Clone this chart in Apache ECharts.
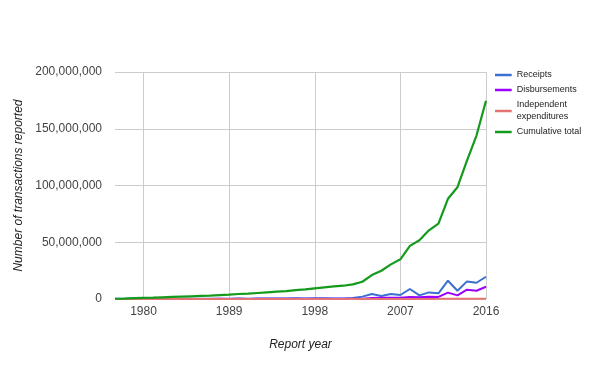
<!DOCTYPE html>
<html><head><meta charset="utf-8">
<script src="https://cdn.jsdelivr.net/npm/echarts@6/dist/echarts.min.js"></script>
<style>html,body{margin:0;padding:0;background:#fff}#c{width:600px;height:371px}</style>
</head><body><div id="c"></div>
<script>
var years = ['1977','1978','1979','1980','1981','1982','1983','1984','1985','1986','1987','1988','1989','1990','1991','1992','1993','1994','1995','1996','1997','1998','1999','2000','2001','2002','2003','2004','2005','2006','2007','2008','2009','2010','2011','2012','2013','2014','2015','2016'];
var tickYears = ['1980','1989','1998','2007','2016'];
var receipts = [150000,200000,200000,220000,200000,220000,220000,230000,220000,230000,220000,280000,300000,400000,250000,400000,420000,430000,350000,600000,420000,600000,600000,550000,400000,900000,2100000,4400000,2600000,4400000,3500000,8800000,3200000,5800000,5000000,16100000,7300000,15500000,14300000,19600000];
var disbursements = [50000,100000,100000,80000,100000,80000,80000,70000,80000,70000,80000,120000,100000,200000,50000,200000,180000,170000,150000,300000,180000,300000,300000,250000,200000,300000,200000,900000,1200000,1200000,1000000,1800000,1500000,2000000,1800000,5600000,3200000,8200000,7300000,10800000];
var independent = [5000,5000,5000,10000,10000,10000,10000,10000,10000,10000,10000,10000,10000,10000,10000,10000,10000,10000,10000,10000,10000,20000,20000,20000,20000,30000,30000,50000,50000,60000,60000,80000,80000,100000,120000,200000,150000,250000,250000,300000];
var cumulative = [200000,400000,700000,1000000,1200000,1500000,1800000,2100000,2400000,2700000,3000000,3400000,3800000,4400000,4700000,5300000,5900000,6500000,7000000,7900000,8500000,9400000,10300000,11100000,11700000,12900000,15200000,21100000,24900000,30500000,35000000,46800000,51800000,60500000,66400000,88300000,98500000,122000000,144000000,174600000];
var seriesNames = ['Receipts','Disbursements','Independent expenditures','Cumulative total'];
var colors = ['#3c6fd1','#9b00ff','#e67373','#149a1c'];

var chart = echarts.init(document.getElementById('c'));
var isTick = function (idx, val) { return tickYears.indexOf(String(val)) >= 0 || tickYears.indexOf(years[idx]) >= 0; };
var icon = 'path://M0,0L20,0L20,3L0,3Z';
function leg(name, top, extra) {
  var l = {
    data: [name], left: 495, top: top, orient: 'vertical', icon: icon,
    itemWidth: 17, itemHeight: 2.5, itemGap: 0, padding: 0,
    textStyle: Object.assign({fontFamily: 'Liberation Sans, Arial, sans-serif', fontSize: 9, color: '#222', lineHeight: 12}, extra || {}),
    selectedMode: false
  };
  return l;
}
var option = {
  animation: false,
  backgroundColor: '#fff',
  color: colors,
  grid: {left: 115, right: 114, top: 72, bottom: 72, containLabel: false},
  legend: [
    leg(seriesNames[0], 69),
    leg(seriesNames[1], 84),
    Object.assign(leg(seriesNames[2], 93, {padding: [12, 0, 0, 0]}), {formatter: function () { return 'Independent\nexpenditures'; }}),
    leg(seriesNames[3], 126)
  ],
  xAxis: {
    type: 'category', data: years, boundaryGap: false,
    name: 'Report year', nameLocation: 'middle', nameGap: 40,
    nameTextStyle: {fontFamily: 'Liberation Sans, Arial, sans-serif', fontSize: 12, fontStyle: 'italic', color: '#222'},
    axisLine: {show: false}, axisTick: {show: false},
    axisLabel: {interval: isTick, fontFamily: 'Liberation Sans, Arial, sans-serif', fontSize: 12, color: '#444', margin: 7},
    splitLine: {show: true, interval: isTick, lineStyle: {color: '#cccccc', width: 1}}
  },
  yAxis: {
    type: 'value', min: 0, max: 200000000, interval: 50000000,
    name: 'Number of transactions reported', nameLocation: 'middle', nameGap: 89, nameRotate: 90,
    nameTextStyle: {fontFamily: 'Liberation Sans, Arial, sans-serif', fontSize: 12, fontStyle: 'italic', color: '#222'},
    axisLine: {show: false}, axisTick: {show: false},
    axisLabel: {fontFamily: 'Liberation Sans, Arial, sans-serif', fontSize: 12, color: '#444', margin: 13,
      formatter: function (v) { return v.toLocaleString('en-US'); }},
    splitLine: {lineStyle: {color: '#cccccc', width: 1}}
  },
  series: [
    {name: seriesNames[0], type: 'line', data: receipts, showSymbol: false, lineStyle: {width: 2}},
    {name: seriesNames[1], type: 'line', data: disbursements, showSymbol: false, lineStyle: {width: 2}},
    {name: seriesNames[2], type: 'line', data: independent, showSymbol: false, lineStyle: {width: 2}},
    {name: seriesNames[3], type: 'line', data: cumulative, showSymbol: false, lineStyle: {width: 2.2}}
  ]
};
chart.setOption(option);
</script></body></html>
